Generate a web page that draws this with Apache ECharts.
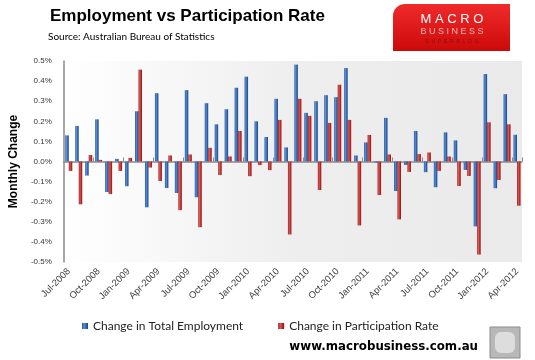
<!DOCTYPE html>
<html>
<head>
<meta charset="utf-8">
<script src="https://cdn.jsdelivr.net/npm/echarts@6/dist/echarts.min.js"></script>
<style>
  html, body { margin: 0; padding: 0; background: #ffffff; }
  #chart { width: 535px; height: 360px; }
</style>
</head>
<body>
<div id="chart"></div>
<script>
const categories = [
  'Jul-2008','Aug-2008','Sep-2008','Oct-2008','Nov-2008','Dec-2008',
  'Jan-2009','Feb-2009','Mar-2009','Apr-2009','May-2009','Jun-2009',
  'Jul-2009','Aug-2009','Sep-2009','Oct-2009','Nov-2009','Dec-2009',
  'Jan-2010','Feb-2010','Mar-2010','Apr-2010','May-2010','Jun-2010',
  'Jul-2010','Aug-2010','Sep-2010','Oct-2010','Nov-2010','Dec-2010',
  'Jan-2011','Feb-2011','Mar-2011','Apr-2011','May-2011','Jun-2011',
  'Jul-2011','Aug-2011','Sep-2011','Oct-2011','Nov-2011','Dec-2011',
  'Jan-2012','Feb-2012','Mar-2012','Apr-2012'
];
const employment = [
  0.13, 0.177, -0.07, 0.21, -0.152, 0.013,
  -0.123, 0.25, -0.228, 0.34, -0.132, -0.157,
  0.355, -0.178, 0.29, 0.185, 0.26, 0.367,
  0.422, 0.2, 0.122, 0.312, 0.07, 0.482,
  0.242, 0.3, 0.33, 0.32, 0.465, 0.03,
  0.095, -0.005, 0.217, -0.147, -0.017, 0.152,
  -0.053, -0.128, 0.145, 0.105, -0.042, -0.323,
  0.435, -0.133, 0.335, 0.133
];
const participation = [
  -0.047, -0.213, 0.032, 0.008, -0.162, -0.047,
  0.018, 0.457, -0.03, -0.097, 0.03, -0.242,
  0.035, -0.327, 0.068, -0.067, 0.025, 0.152,
  -0.073, -0.018, -0.043, 0.207, -0.363, 0.312,
  0.227, -0.142, 0.192, 0.382, 0.207, -0.318,
  0.132, -0.167, 0.035, -0.288, -0.052, 0.037,
  0.045, -0.047, 0.025, -0.122, -0.072, -0.463,
  0.195, -0.092, 0.185, -0.22
];
const seriesNames = ['Change in Total Employment', 'Change in Participation Rate'];
const yTicks = { min: -0.5, max: 0.5, interval: 0.1 };

function hGrad(stops) {
  return new echarts.graphic.LinearGradient(0, 0, 1, 0,
    stops.map(s => ({ offset: s[0], color: s[1] })));
}
const blueFill = hGrad([[0, '#23559a'], [0.35, '#5a8fd6'], [0.7, '#2f65ae'], [1, '#1a447e']]);
const redFill = hGrad([[0, '#941d1d'], [0.35, '#e25656'], [0.7, '#bd2c2c'], [1, '#7e1717']]);

const chart = echarts.init(document.getElementById('chart'), null, { renderer: 'canvas' });

const option = {
  animation: false,
  backgroundColor: '#ffffff',
  grid: {
    left: 55, right: 13, top: 61, bottom: 98,
    show: true,
    borderWidth: 0,
    backgroundColor: new echarts.graphic.LinearGradient(0, 0, 1, 0, [
      { offset: 0, color: '#ffffff' },
      { offset: 0.5, color: '#eeeeee' },
      { offset: 1, color: '#eaeaea' }
    ])
  },
  legend: {
    data: seriesNames,
    left: 77,
    top: 315,
    icon: 'rect',
    itemWidth: 6,
    itemHeight: 6,
    itemGap: 35,
    textStyle: { fontFamily: 'Lato', fontSize: 12, color: '#222222' }
  },
  xAxis: [
    {
      type: 'category',
      data: categories,
      position: 'bottom',
      boundaryGap: true,
      axisLine: { show: false, onZero: false },
      axisTick: { show: false },
      axisLabel: {
        interval: 2,
        rotate: 45,
        margin: 8,
        fontFamily: 'Liberation Sans',
        fontSize: 9.5,
        color: '#404040'
      },
      splitLine: { show: false }
    },
    {
      type: 'category',
      data: categories,
      position: 'bottom',
      boundaryGap: true,
      axisLine: { show: true, onZero: true, lineStyle: { color: '#8a8a8a', width: 1.5 } },
      axisTick: {
        show: true,
        inside: true,
        length: 4,
        interval: function (i) { return i % 3 === 0 && i > 0; },
        lineStyle: { color: '#8a8a8a' }
      },
      axisLabel: { show: false },
      splitLine: { show: false }
    }
  ],
  yAxis: {
    type: 'value',
    min: yTicks.min,
    max: yTicks.max,
    interval: yTicks.interval,
    name: 'Monthly Change',
    nameLocation: 'middle',
    nameGap: 40,
    nameTextStyle: { fontFamily: 'Liberation Sans', fontWeight: 'bold', fontSize: 12, color: '#000000' },
    axisLine: { show: true, lineStyle: { color: '#8a8a8a', width: 1.5 } },
    axisTick: { show: false },
    splitLine: { show: false },
    axisLabel: {
      margin: 12,
      fontFamily: 'Liberation Sans',
      fontSize: 8,
      color: '#333333',
      formatter: function (v) { return v.toFixed(1) + '%'; }
    }
  },
  series: [
    {
      name: seriesNames[0],
      type: 'bar',
      xAxisIndex: 0,
      data: employment,
      barWidth: 3.5,
      barGap: '0%',
      itemStyle: { color: blueFill }
    },
    {
      name: seriesNames[1],
      type: 'bar',
      xAxisIndex: 0,
      data: participation,
      barWidth: 3.5,
      barGap: '0%',
      itemStyle: { color: redFill }
    }
  ],
  graphic: [
    {
      type: 'text', left: 50, top: 8,
      style: { text: 'Employment vs Participation Rate', fontFamily: 'Liberation Sans', fontWeight: 'bold', fontSize: 17, fill: '#000000' }
    },
    {
      type: 'text', left: 48, top: 32,
      style: { text: 'Source: Australian Bureau of Statistics', fontFamily: 'Lato', fontSize: 10, fill: '#000000' }
    },
    {
      type: 'rect',
      shape: { x: 393, y: 4, width: 117, height: 47, r: [12, 0, 0, 0] },
      style: {
        fill: new echarts.graphic.LinearGradient(0, 0, 0, 1, [
          { offset: 0, color: '#f02a2a' }, { offset: 1, color: '#cc0a0a' }
        ])
      }
    },
    {
      type: 'text', x: 452, y: 19,
      style: { text: 'M A C R O', fontFamily: 'Liberation Sans', fontSize: 13, fill: '#ffffff', align: 'center', verticalAlign: 'middle' }
    },
    {
      type: 'text', x: 452, y: 32,
      style: { text: 'B U S I N E S S', fontFamily: 'Liberation Sans', fontSize: 9, fill: '#f6b7b7', align: 'center', verticalAlign: 'middle' }
    },
    {
      type: 'text', x: 452, y: 42,
      style: { text: 'S  U  P  E  R  B  L  O  G', fontFamily: 'Liberation Sans', fontSize: 5, fill: '#8a0b0b', align: 'center', verticalAlign: 'middle' }
    },
    {
      type: 'text', x: 478, y: 347,
      style: { text: 'www.macrobusiness.com.au', fontFamily: 'DejaVu Sans', fontWeight: 'bold', fontSize: 11.8, fill: '#000000', align: 'right', verticalAlign: 'middle' }
    },
    {
      type: 'rect',
      shape: { x: 490, y: 327, width: 30, height: 31 },
      style: { fill: '#b8b8b8', stroke: '#8c8c8c', lineWidth: 1 }
    },
    {
      type: 'rect',
      shape: { x: 495, y: 332, width: 20, height: 21, r: 6 },
      style: { fill: '#dddddd' }
    }
  ]
};
chart.setOption(option);
</script>
</body>
</html>
